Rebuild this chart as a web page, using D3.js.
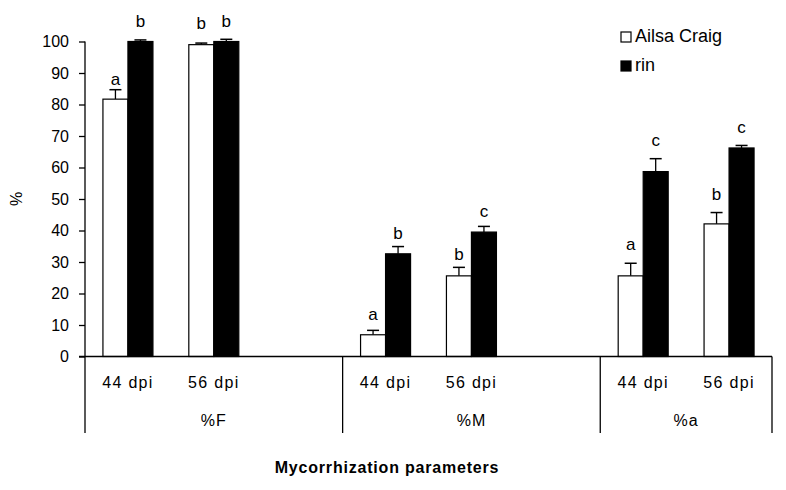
<!DOCTYPE html>
<html>
<head>
<meta charset="utf-8">
<script src="https://cdn.jsdelivr.net/npm/d3@7"></script>
<style>
  body { margin: 0; background: #fff; }
  text { font-family: "Liberation Sans", Arial, sans-serif; fill: #000; }
</style>
</head>
<body>
<div id="chart"></div>
<script>
var width = 786,
    height = 490;

// data
var groups = ["%F", "%M", "%a"];
var times = ["44 dpi", "56 dpi"];
var series = ["Ailsa Craig", "rin"];
var ailsaValues = [81.7, 99.0, 6.9, 25.6, 25.6, 42.1];
var ailsaErrors = [3.0, 0.5, 1.4, 2.7, 4.0, 3.6];
var rinValues = [100, 100, 32.6, 39.5, 58.7, 66.2];
var rinErrors = [0.5, 0.7, 2.3, 1.8, 4.1, 0.8];
var ailsaLetters = ["a", "b", "a", "b", "a", "b"];
var rinLetters = ["b", "b", "b", "c", "c", "c"];
var ailsaLetterAt = [86.2, 104.0, 11.6, 30.5, 33.9, 49.7];
var rinLetterAt = [104.7, 104.7, 37.3, 44.3, 66.7, 71.0];
var yTicks = [0, 10, 20, 30, 40, 50, 60, 70, 80, 90, 100];

// slots: each group has two time slots plus a blank one, except the last
var slots = [];
groups.forEach(function (g, gi) {
    times.forEach(function (t) { slots.push(g + "|" + t); });
    if (gi < groups.length - 1) slots.push(g + "|blank");
});

var rows = [];
groups.forEach(function (g, gi) {
    times.forEach(function (t, ti) {
        var i = gi * times.length + ti;
        rows.push({ slot: g + "|" + t, series: series[0], value: ailsaValues[i], err: ailsaErrors[i], letter: ailsaLetters[i], letterAt: ailsaLetterAt[i] });
        rows.push({ slot: g + "|" + t, series: series[1], value: rinValues[i], err: rinErrors[i], letter: rinLetters[i], letterAt: rinLetterAt[i] });
    });
});

var x = d3.scaleBand().domain(slots).range([85, 772]);
var xs = d3.scaleBand().domain(series).range([-25, 25]);
var y = d3.scaleLinear().domain([0, 100]).range([356.5, 41.5]);
var color = d3.scaleOrdinal().domain(series).range(["#fff", "#000"]);

var svg = d3.select("#chart").append("svg")
    .attr("width", width)
    .attr("height", height);

// y axis
var yAxis = svg.append("g")
    .attr("transform", "translate(85,0)")
    .call(d3.axisLeft(y).tickValues(yTicks).tickSize(6).tickSizeOuter(0).tickPadding(10));
yAxis.select(".domain").remove();
yAxis.selectAll("line").attr("stroke", "#000").attr("stroke-width", 1.3);
yAxis.selectAll("text")
    .attr("font-size", 16)
    .attr("font-family", "Liberation Sans, Arial, sans-serif");

svg.append("line")
    .attr("x1", 85).attr("x2", 85)
    .attr("y1", y(100)).attr("y2", 433)
    .attr("stroke", "#000").attr("stroke-width", 1.3);

svg.append("text")
    .attr("transform", "translate(22," + y(50) + ") rotate(-90)")
    .attr("text-anchor", "middle")
    .attr("font-size", 16)
    .text("%");

// bars
var bar = svg.append("g").selectAll("g")
    .data(rows)
    .join("g")
    .attr("transform", function (d) { return "translate(" + (x(d.slot) + x.bandwidth() / 2) + ",0)"; });

bar.append("line")
    .attr("x1", function (d) { return xs(d.series) + xs.bandwidth() / 2; })
    .attr("x2", function (d) { return xs(d.series) + xs.bandwidth() / 2; })
    .attr("y1", function (d) { return y(d.value); })
    .attr("y2", function (d) { return y(d.value + d.err); })
    .attr("stroke", "#000").attr("stroke-width", 1.3);

bar.append("line")
    .attr("x1", function (d) { return xs(d.series) + xs.bandwidth() / 2 - 6; })
    .attr("x2", function (d) { return xs(d.series) + xs.bandwidth() / 2 + 6; })
    .attr("y1", function (d) { return y(d.value + d.err); })
    .attr("y2", function (d) { return y(d.value + d.err); })
    .attr("stroke", "#000").attr("stroke-width", 1.5);

bar.append("rect")
    .attr("x", function (d) { return xs(d.series); })
    .attr("width", xs.bandwidth())
    .attr("y", function (d) { return y(d.value); })
    .attr("height", function (d) { return y(0) - y(d.value); })
    .attr("fill", function (d) { return color(d.series); })
    .attr("stroke", "#000")
    .attr("stroke-width", 1.2);

bar.append("text")
    .attr("x", function (d) { return xs(d.series) + xs.bandwidth() / 2; })
    .attr("y", function (d) { return y(d.letterAt); })
    .attr("text-anchor", "middle")
    .attr("font-size", 17)
    .text(function (d) { return d.letter; });

// x axis line and group separators
svg.append("line")
    .attr("x1", 79).attr("x2", x.range()[1])
    .attr("y1", y(0)).attr("y2", y(0))
    .attr("stroke", "#000").attr("stroke-width", 1.3);

var groupEdges = groups.map(function (g) { return x(g + "|" + times[0]); }).concat([x.range()[1]]);
svg.append("g").selectAll("line")
    .data(groupEdges.slice(1))
    .join("line")
    .attr("x1", function (d) { return d; })
    .attr("x2", function (d) { return d; })
    .attr("y1", y(0)).attr("y2", 433)
    .attr("stroke", "#000").attr("stroke-width", 1.3);

svg.append("g").selectAll("text")
    .data(rows.filter(function (d) { return d.series === series[0]; }))
    .join("text")
    .attr("x", function (d) { return x(d.slot) + x.bandwidth() / 2; })
    .attr("y", 388)
    .attr("text-anchor", "middle")
    .attr("font-size", 16)
    .attr("letter-spacing", 1.3)
    .text(function (d) { return d.slot.split("|")[1]; });

svg.append("g").selectAll("text")
    .data(groups)
    .join("text")
    .attr("x", function (d, i) { return (groupEdges[i] + groupEdges[i + 1]) / 2; })
    .attr("y", 426)
    .attr("text-anchor", "middle")
    .attr("font-size", 16)
    .attr("letter-spacing", 1)
    .text(function (d) { return d; });

svg.append("text")
    .attr("x", 387)
    .attr("y", 473)
    .attr("text-anchor", "middle")
    .attr("font-size", 16)
    .attr("font-weight", "bold")
    .attr("letter-spacing", 0.8)
    .text("Mycorrhization parameters");

// legend
var legend = svg.append("g").selectAll("g")
    .data(series)
    .join("g")
    .attr("transform", function (d, i) { return "translate(621," + (32 + i * 29) + ")"; });

legend.append("rect")
    .attr("width", 10).attr("height", 10)
    .attr("fill", function (d) { return color(d); })
    .attr("stroke", "#000").attr("stroke-width", 1.2);

legend.append("text")
    .attr("x", 14)
    .attr("y", 10)
    .attr("font-size", 18)
    .text(function (d) { return d; });
</script>
</body>
</html>
